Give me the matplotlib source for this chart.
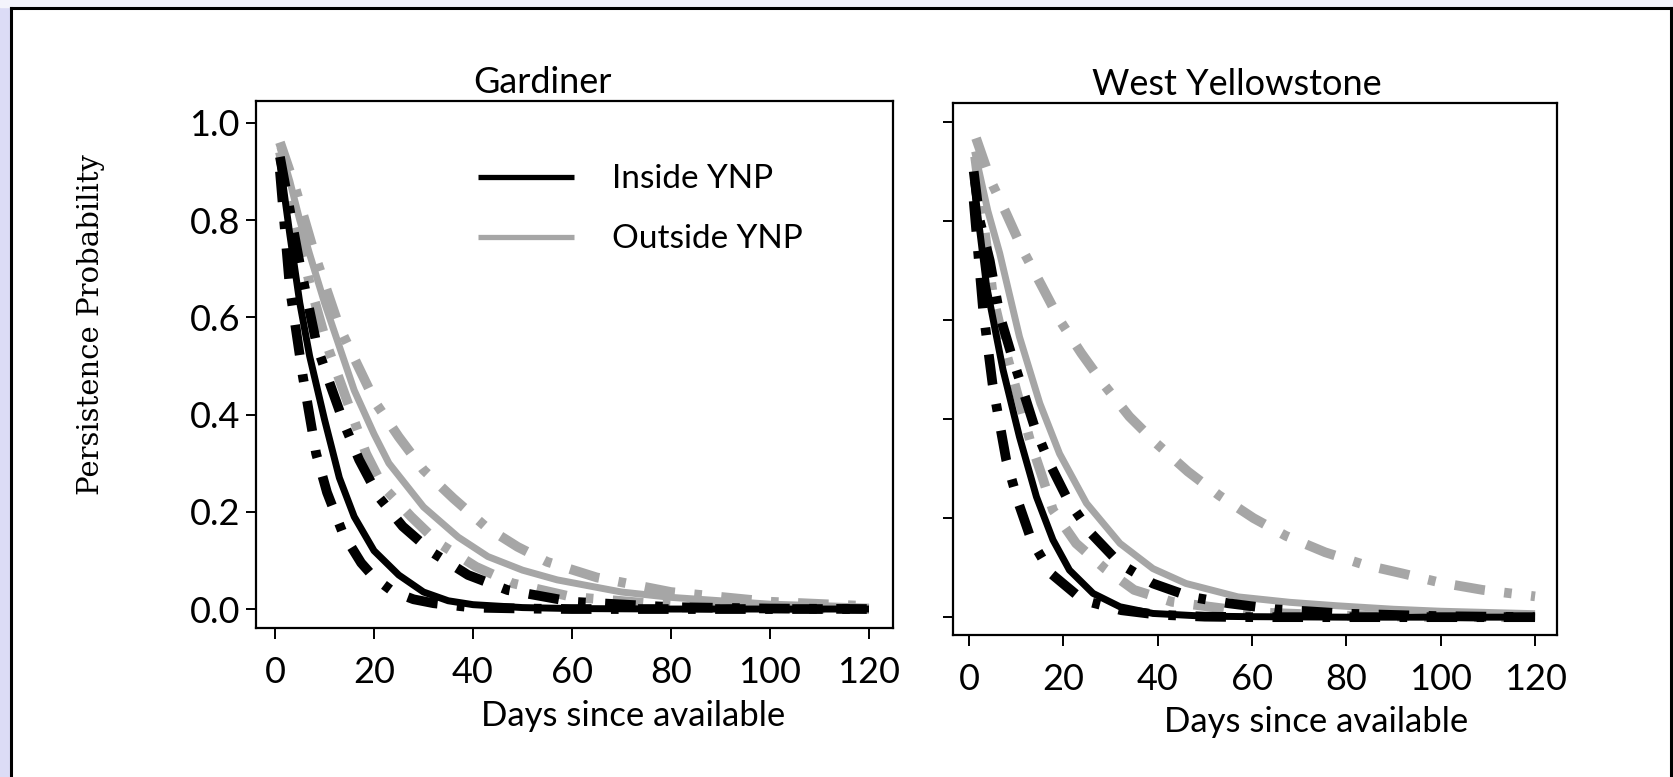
import matplotlib
matplotlib.use("Agg")
import matplotlib.pyplot as plt
from matplotlib.lines import Line2D
from matplotlib.patches import Rectangle

plt.rcParams['lines.scale_dashes'] = False
plt.rcParams['font.family'] = ['Lato', 'DejaVu Sans']

# ---------------- data ----------------
panels = ["Gardiner", "West Yellowstone"]
x_label = "Days since available"
y_label = "Persistence Probability"
legend_labels = ["Inside YNP", "Outside YNP"]
x_ticks = [0, 20, 40, 60, 80, 100, 120]
y_ticks = [0.0, 0.2, 0.4, 0.6, 0.8, 1.0]

# Gardiner - inside YNP (black)
g_in_est_d = [1, 3, 5, 7, 10, 13, 16, 20, 25, 30, 35, 40, 50, 60, 80, 100, 120]
g_in_est_p = [0.92, 0.77, 0.63, 0.52, 0.39, 0.27, 0.19, 0.12, 0.07, 0.035, 0.017, 0.009, 0.003, 0.001, 0.0, 0.0, 0.0]
g_in_lo_d = [1, 3, 5.6, 8.3, 10.5, 13.7, 17.4, 20, 23.8, 28, 32, 40, 50, 60, 80, 100, 120]
g_in_lo_p = [0.90, 0.66, 0.48, 0.32, 0.24, 0.156, 0.095, 0.065, 0.036, 0.02, 0.012, 0.003, 0.001, 0.0, 0.0, 0.0, 0.0]
g_in_hi_d = [1, 3, 5, 8.5, 11.3, 14, 17, 21, 25.8, 32, 39, 47, 60, 80, 100, 120]
g_in_hi_p = [0.93, 0.82, 0.71, 0.54, 0.457, 0.38, 0.307, 0.23, 0.17, 0.115, 0.07, 0.039, 0.015, 0.004, 0.001, 0.0]
# Gardiner - outside YNP (grey)
g_out_est_d = [1, 3, 5, 7, 10, 12, 16, 20, 23, 30, 37, 43, 50, 57, 70, 80, 100, 120]
g_out_est_p = [0.95, 0.88, 0.80, 0.73, 0.63, 0.57, 0.45, 0.36, 0.30, 0.21, 0.148, 0.108, 0.08, 0.06, 0.035, 0.024, 0.01, 0.004]
g_out_lo_d = [1, 4, 7, 10.6, 15.7, 18.4, 21.8, 27.5, 33, 40.6, 48, 60, 80, 100, 120]
g_out_lo_p = [0.94, 0.80, 0.67, 0.54, 0.396, 0.32, 0.252, 0.19, 0.136, 0.087, 0.053, 0.025, 0.008, 0.002, 0.0]
g_out_hi_d = [1, 4, 8, 13, 17, 20.4, 25, 30, 36, 42.6, 49, 55, 65, 80, 100, 120]
g_out_hi_p = [0.96, 0.87, 0.73, 0.58, 0.495, 0.423, 0.354, 0.286, 0.228, 0.169, 0.128, 0.097, 0.065, 0.035, 0.015, 0.006]

# West Yellowstone - inside YNP (black)
w_in_est_d = [1, 3.7, 7.2, 10.7, 14.3, 17.8, 21.3, 26.3, 32, 39, 50, 60, 80, 100, 120]
w_in_est_p = [0.88, 0.67, 0.50, 0.364, 0.243, 0.156, 0.095, 0.048, 0.021, 0.0075, 0.002, 0.001, 0.0, 0.0, 0.0]
w_in_lo_d = [1, 3, 5, 7.9, 10.4, 13.2, 17.4, 24.2, 32.3, 40, 50, 60, 80, 100, 120]
w_in_lo_p = [0.84, 0.62, 0.47, 0.317, 0.233, 0.156, 0.088, 0.034, 0.014, 0.005, 0.001, 0.0, 0.0, 0.0, 0.0]
w_in_hi_d = [1, 2.3, 4.4, 6.5, 9, 11.4, 13.9, 17.1, 21, 25.9, 32, 39, 47, 55, 65, 80, 100, 120]
w_in_hi_p = [0.90, 0.80, 0.72, 0.61, 0.53, 0.459, 0.384, 0.31, 0.236, 0.169, 0.108, 0.068, 0.041, 0.028, 0.016, 0.007, 0.002, 0.0]
# West Yellowstone - outside YNP (grey)
w_out_est_d = [1.2, 4, 6.5, 10.7, 15, 19.2, 24.9, 32, 39, 46, 57, 68, 78, 90, 100, 120]
w_out_est_p = [0.94, 0.82, 0.735, 0.566, 0.432, 0.33, 0.23, 0.149, 0.098, 0.068, 0.041, 0.03, 0.023, 0.016, 0.012, 0.007]
w_out_lo_d = [1.3, 5.1, 7.9, 12.9, 15.3, 17.8, 22.7, 28.8, 35, 43, 60, 80, 100, 120]
w_out_lo_p = [0.93, 0.647, 0.533, 0.358, 0.29, 0.216, 0.149, 0.098, 0.055, 0.031, 0.01, 0.003, 0.0, 0.0]
w_out_hi_d = [1.5, 4.7, 7.9, 11.4, 15.3, 19.2, 23.8, 28.4, 34, 39.7, 46.4, 53, 60.3, 67.2, 75.5, 83.7, 92, 99.8, 108.9, 120]
w_out_hi_p = [0.967, 0.879, 0.815, 0.741, 0.671, 0.60, 0.533, 0.472, 0.405, 0.351, 0.294, 0.246, 0.20, 0.164, 0.131, 0.106, 0.088, 0.07, 0.055, 0.042]

panel_data = [
    dict(in_est=(g_in_est_d, g_in_est_p), in_lo=(g_in_lo_d, g_in_lo_p), in_hi=(g_in_hi_d, g_in_hi_p),
         out_est=(g_out_est_d, g_out_est_p), out_lo=(g_out_lo_d, g_out_lo_p), out_hi=(g_out_hi_d, g_out_hi_p)),
    dict(in_est=(w_in_est_d, w_in_est_p), in_lo=(w_in_lo_d, w_in_lo_p), in_hi=(w_in_hi_d, w_in_hi_p),
         out_est=(w_out_est_d, w_out_est_p), out_lo=(w_out_lo_d, w_out_lo_p), out_hi=(w_out_hi_d, w_out_hi_p)),
]

# ---------------- styling ----------------
BLACK = "#000000"
GREY = "#a6a6a6"
DASHDOT = (0, (22, 14, 5.5, 14))
EST_LW = 5.0
CI_LW = 7.0
TICK_FONT = 26
TITLE_FONT = 26
XLAB_FONT = 25
LEG_FONT = 24

W, H = 1673, 777
fig = plt.figure(figsize=(W / 100, H / 100), dpi=100)
fig.patch.set_facecolor("white")

# page background (lavender margin) and outer frame
fig.patches.append(Rectangle((0, 0), 10 / W, 1, transform=fig.transFigure, color="#dcdcf6", zorder=-5))
fig.patches.append(Rectangle((0, 1 - 7 / H), 1, 7 / H, transform=fig.transFigure, color="#f4f4fc", zorder=-5))
fig.add_artist(Line2D([11 / W, 11 / W], [0, 1 - 8 / H], transform=fig.transFigure, color="black", lw=2.2))
fig.add_artist(Line2D([11 / W, 1670.5 / W], [1 - 8 / H, 1 - 8 / H], transform=fig.transFigure, color="black", lw=2.2))
fig.add_artist(Line2D([1670.5 / W, 1670.5 / W], [0, 1 - 8 / H], transform=fig.transFigure, color="black", lw=2.2))

ax_boxes = [
    (256 / W, 1 - 628 / H, (893 - 256) / W, (628 - 101) / H),
    (953 / W, 1 - 635 / H, (1557 - 953) / W, (635 - 103) / H),
]
xlims = [(-3.84, 124.85), (-3.39, 124.65)]
ylims = [(-0.039, 1.045), (-0.036, 1.038)]
title_x = [0.45, 0.47]
xlabel_x = [0.592, 0.601]
xlabel_y = [-0.167, -0.164]

axes = []
for i, name in enumerate(panels):
    ax = fig.add_axes(ax_boxes[i])
    axes.append(ax)
    d = panel_data[i]
    # grey group (outside) first, black group on top
    ax.plot(*d["out_lo"], color=GREY, lw=CI_LW, linestyle=DASHDOT, dash_capstyle="butt")
    ax.plot(*d["out_hi"], color=GREY, lw=CI_LW, linestyle=DASHDOT, dash_capstyle="butt")
    ax.plot(*d["out_est"], color=GREY, lw=EST_LW, solid_capstyle="butt")
    ax.plot(*d["in_lo"], color=BLACK, lw=CI_LW, linestyle=DASHDOT, dash_capstyle="butt")
    ax.plot(*d["in_hi"], color=BLACK, lw=CI_LW, linestyle=DASHDOT, dash_capstyle="butt")
    ax.plot(*d["in_est"], color=BLACK, lw=EST_LW, solid_capstyle="butt")

    ax.set_xlim(*xlims[i])
    ax.set_ylim(*ylims[i])
    ax.set_xticks(x_ticks)
    ax.set_yticks(y_ticks)
    for s in ax.spines.values():
        s.set_linewidth(1.6)
    ax.tick_params(axis="x", direction="out", length=8, width=1.4, pad=12, labelsize=TICK_FONT)
    ax.tick_params(axis="y", direction="out", length=7.5, width=1.4, pad=4, labelsize=TICK_FONT)
    ax.set_xticklabels([str(t) for t in x_ticks])
    if i == 0:
        ax.set_yticklabels([f"{t:.1f}" for t in y_ticks])
    else:
        ax.set_yticklabels([])
    ax.set_title(name, fontsize=TITLE_FONT, x=title_x[i], pad=6)
    ax.set_xlabel(x_label, fontsize=XLAB_FONT, va="center")
    ax.xaxis.set_label_coords(xlabel_x[i], xlabel_y[i])

# legend in the left panel
handles = [Line2D([], [], color=BLACK, lw=3.8, solid_capstyle="butt"),
           Line2D([], [], color=GREY, lw=3.8, solid_capstyle="butt")]
axes[0].legend(handles, legend_labels, loc="upper left", bbox_to_anchor=(0.349, 0.88),
               frameon=False, fontsize=LEG_FONT, handlelength=2.88,
               handletextpad=1.12, labelspacing=0.9, borderaxespad=0, borderpad=0)

fig.text(91 / W, 1 - 325 / H, y_label, rotation=90, ha="center", va="center",
         fontsize=21, family=["DejaVu Serif"])

fig.savefig("out.png", dpi=100, facecolor=fig.get_facecolor())
